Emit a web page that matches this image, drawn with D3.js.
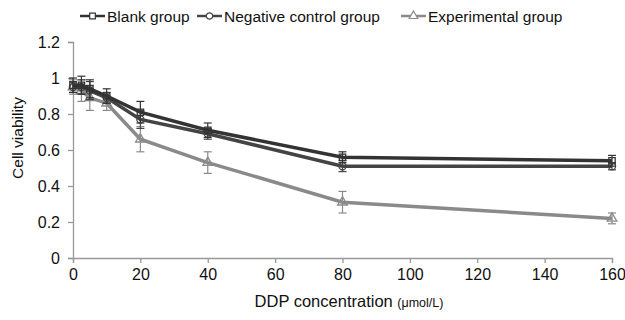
<!DOCTYPE html>
<html>
<head>
<meta charset="utf-8">
<script src="https://cdn.jsdelivr.net/npm/d3@7"></script>
<style>
  body { margin: 0; background: #fff; }
  svg { font-family: "Liberation Sans", Arial, sans-serif; }
</style>
</head>
<body>
<svg id="chart" width="625" height="320"></svg>
<script>
let doses = [0, 2.5, 5, 10, 20, 40, 80, 160]
let blankVals = [0.96, 0.96, 0.94, 0.90, 0.81, 0.71, 0.56, 0.54]
let blankErr = [0.04, 0.05, 0.05, 0.04, 0.06, 0.04, 0.03, 0.03]
let negVals = [0.95, 0.95, 0.93, 0.89, 0.77, 0.69, 0.51, 0.51]
let negErr = [0.03, 0.04, 0.05, 0.03, 0.05, 0.03, 0.03, 0.02]
let expVals = [0.95, 0.93, 0.89, 0.86, 0.66, 0.53, 0.31, 0.22]
let expErr = [0.04, 0.06, 0.07, 0.04, 0.07, 0.06, 0.06, 0.03]
let xTicks = [0, 20, 40, 60, 80, 100, 120, 140, 160]
let yTicks = [0, 0.2, 0.4, 0.6, 0.8, 1, 1.2]
let seriesNames = ['Blank group', 'Negative control group', 'Experimental group']

let svg = d3.select('#chart')
let x = d3.scaleLinear().domain([0, 160]).range([73, 612])
let y = d3.scaleLinear().domain([0, 1.2]).range([258, 42])

// axes
svg.append('g')
  .attr('transform', 'translate(0,258)')
  .call(d3.axisBottom(x).tickValues(xTicks).tickSize(5).tickPadding(6))
svg.append('g')
  .attr('transform', 'translate(73,0)')
  .call(d3.axisLeft(y).tickValues(yTicks).tickSize(5).tickPadding(8).tickFormat(d3.format('~g')))

svg.selectAll('.domain, .tick line').attr('stroke', '#999').attr('stroke-width', 1.3)
svg.selectAll('.tick text').attr('font-size', 16).attr('fill', '#111')
  .attr('font-family', '"Liberation Sans", Arial, sans-serif')

// axis titles
svg.append('text')
  .attr('x', 349).attr('y', 307)
  .attr('text-anchor', 'middle')
  .attr('font-size', 16.5).attr('fill', '#111')
  .text('DDP concentration ')
  .append('tspan').attr('font-size', 12.5).text('(\u03bcmol/L)')

svg.append('text')
  .attr('transform', 'translate(23,138) rotate(-90)')
  .attr('text-anchor', 'middle')
  .attr('font-size', 15.5).attr('fill', '#111')
  .text('Cell viability')

let series = [
  { name: seriesNames[0], vals: blankVals, err: blankErr, color: '#333', shape: d3.symbolSquare },
  { name: seriesNames[1], vals: negVals, err: negErr, color: '#444', shape: d3.symbolCircle },
  { name: seriesNames[2], vals: expVals, err: expErr, color: '#8a8a8a', shape: d3.symbolTriangle }
]

let line = d3.line().x(d => x(d[0])).y(d => y(d[1]))

series.slice().reverse().forEach(s => {
  let pts = doses.map((d, i) => [d, s.vals[i], s.err[i]])
  let g = svg.append('g')
  g.append('path')
    .attr('d', line(pts))
    .attr('fill', 'none')
    .attr('stroke', s.color)
    .attr('stroke-width', 3.5)

  // error bars
  let eb = g.selectAll('.eb').data(pts).enter().append('g')
  eb.append('line')
    .attr('x1', d => x(d[0])).attr('x2', d => x(d[0]))
    .attr('y1', d => y(d[1] - d[2])).attr('y2', d => y(d[1] + d[2]))
    .attr('stroke', s.color).attr('stroke-width', 1.2)
  eb.append('line')
    .attr('x1', d => x(d[0]) - 4).attr('x2', d => x(d[0]) + 4)
    .attr('y1', d => y(d[1] - d[2])).attr('y2', d => y(d[1] - d[2]))
    .attr('stroke', s.color).attr('stroke-width', 1.2)
  eb.append('line')
    .attr('x1', d => x(d[0]) - 4).attr('x2', d => x(d[0]) + 4)
    .attr('y1', d => y(d[1] + d[2])).attr('y2', d => y(d[1] + d[2]))
    .attr('stroke', s.color).attr('stroke-width', 1.2)

  // markers
  g.selectAll('.mk').data(pts).enter().append('path')
    .attr('d', d3.symbol().type(s.shape).size(40))
    .attr('transform', d => 'translate(' + x(d[0]) + ',' + y(d[1]) + ')')
    .attr('fill', 'none')
    .attr('stroke', s.color).attr('stroke-width', 1.3)
})

// legend
let legX = [80, 197, 401]
series.forEach((s, i) => {
  let lg = svg.append('g').attr('transform', 'translate(' + legX[i] + ',16)')
  lg.append('line').attr('x1', 0).attr('x2', 25).attr('y1', 0).attr('y2', 0)
    .attr('stroke', s.color).attr('stroke-width', 2.5)
  lg.append('path')
    .attr('d', d3.symbol().type(s.shape).size(32))
    .attr('transform', 'translate(12.5,0)')
    .attr('fill', '#fff')
    .attr('stroke', s.color).attr('stroke-width', 1.2)
  lg.append('text').attr('x', 27).attr('y', 6)
    .attr('font-size', 15.5).attr('fill', '#111')
    .text(s.name)
})
</script>
</body>
</html>
